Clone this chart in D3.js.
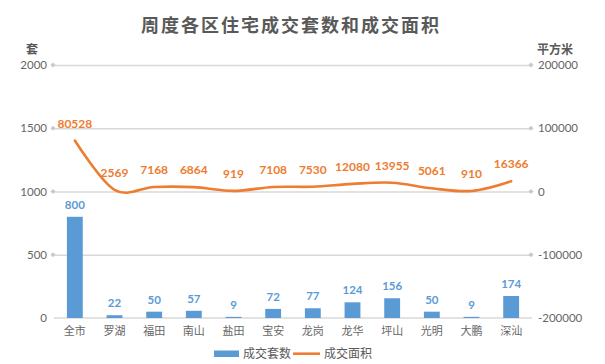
<!DOCTYPE html>
<html>
<head>
<meta charset="utf-8">
<script src="https://cdn.jsdelivr.net/npm/d3@7"></script>
<style>
  body { margin: 0; background: #fff; }
  svg { display: block; }
  .tick text { fill: #666; font-family: Lato, "Noto Sans CJK SC", sans-serif; }
</style>
</head>
<body>
<div id="chart"></div>
<script>
const districts = ['全市', '罗湖', '福田', '南山', '盐田', '宝安', '龙岗', '龙华', '坪山', '光明', '大鹏', '深汕'];
const unitsSold = [800, 22, 50, 57, 9, 72, 77, 124, 156, 50, 9, 174];
const areaSold = [80528, 2569, 7168, 6864, 919, 7108, 7530, 12080, 13955, 5061, 910, 16366];
const leftTicks = [0, 500, 1000, 1500, 2000];
const rightTicks = [-200000, -100000, 0, 100000, 200000];

const W = 605, H = 364;
const margin = { top: 65, right: 74, bottom: 46, left: 55 };
const plotW = W - margin.left - margin.right;
const plotH = H - margin.top - margin.bottom;

const blue = '#5b9bd5', orange = '#ed7d31', grid = '#d9d9d9';
const plain = d => String(d);

const svg = d3.select('#chart').append('svg')
  .attr('width', W).attr('height', H);

svg.append('text')
  .attr('x', 291).attr('y', 32)
  .attr('text-anchor', 'middle')
  .attr('font-family', '"Noto Sans CJK SC", sans-serif')
  .attr('font-weight', 700)
  .attr('font-size', 18)
  .attr('letter-spacing', 2)
  .attr('fill', '#595959')
  .text('周度各区住宅成交套数和成交面积');

const g = svg.append('g').attr('transform', `translate(${margin.left},${margin.top})`);

const x = d3.scaleBand().domain(districts).range([0, plotW]).paddingInner(0.6).paddingOuter(0.3);
const yL = d3.scaleLinear().domain([0, 2000]).range([plotH, 0]);
const yR = d3.scaleLinear().domain([-200000, 200000]).range([plotH, 0]);
const cx = d => x(d) + x.bandwidth() / 2;

// gridlines
g.append('g')
  .call(d3.axisLeft(yL).tickValues(leftTicks.slice(1)).tickSize(-plotW).tickFormat(''))
  .call(a => a.select('.domain').remove())
  .call(a => a.selectAll('line').attr('stroke', grid).attr('stroke-width', 1.3));

// diamonds at both ends of gridlines
const diamond = d3.symbol(d3.symbolSquare, 13);
[ -2, plotW ].forEach(px => {
  g.append('g').selectAll('path')
    .data(leftTicks.slice(1))
    .join('path')
    .attr('d', diamond)
    .attr('fill', '#c8c8c8')
    .attr('transform', d => `translate(${px},${yL(d)}) rotate(45)`);
});

// baseline
g.append('line')
  .attr('x1', -1).attr('x2', plotW + 1)
  .attr('y1', plotH).attr('y2', plotH)
  .attr('stroke', grid).attr('stroke-width', 1.3);

// left axis labels
g.append('g')
  .call(d3.axisLeft(yL).tickValues(leftTicks).tickFormat(plain).tickSize(0).tickPadding(8))
  .call(a => a.select('.domain').remove())
  .call(a => a.selectAll('text').attr('font-size', 11.5));

// right axis labels
g.append('g')
  .attr('transform', `translate(${plotW},0)`)
  .call(d3.axisRight(yR).tickValues(rightTicks).tickFormat(plain).tickSize(0).tickPadding(7))
  .call(a => a.select('.domain').remove())
  .call(a => a.selectAll('text').attr('font-size', 11.5));

// category axis
g.append('g')
  .attr('transform', `translate(0,${plotH})`)
  .call(d3.axisBottom(x).tickSize(0).tickPadding(9))
  .call(a => a.select('.domain').remove())
  .call(a => a.selectAll('text')
    .attr('font-size', 11)
    .attr('fill', '#777')
    .attr('font-family', '"Noto Sans CJK SC", sans-serif'));

// axis titles
svg.append('text').attr('x', 32).attr('y', 54)
  .attr('text-anchor', 'middle')
  .attr('font-family', '"Noto Sans CJK SC", sans-serif')
  .attr('font-weight', 700).attr('font-size', 12).attr('fill', '#595959')
  .text('套');
svg.append('text').attr('x', 555).attr('y', 54)
  .attr('text-anchor', 'middle')
  .attr('font-family', '"Noto Sans CJK SC", sans-serif')
  .attr('font-weight', 700).attr('font-size', 12).attr('fill', '#595959')
  .text('平方米');

const rows = districts.map((d, i) => ({ name: d, units: unitsSold[i], area: areaSold[i] }));

// bars
g.append('g').selectAll('rect')
  .data(rows)
  .join('rect')
  .attr('x', d => x(d.name))
  .attr('width', x.bandwidth())
  .attr('y', d => yL(d.units))
  .attr('height', d => plotH - yL(d.units))
  .attr('fill', blue);

g.append('g').selectAll('text')
  .data(rows)
  .join('text')
  .attr('x', d => cx(d.name))
  .attr('y', d => yL(d.units) - 8)
  .attr('text-anchor', 'middle')
  .attr('font-family', 'Lato, sans-serif')
  .attr('font-weight', 700)
  .attr('font-size', 11.5)
  .attr('fill', blue)
  .text(d => d.units);

// line
const line = d3.line()
  .x(d => cx(d.name))
  .y(d => yR(d.area))
  .curve(d3.curveCardinal.tension(0));

g.append('path')
  .datum(rows)
  .attr('d', line)
  .attr('fill', 'none')
  .attr('stroke', orange)
  .attr('stroke-width', 2.6)
  .attr('stroke-linecap', 'round');

g.append('g').selectAll('text')
  .data(rows)
  .join('text')
  .attr('x', d => cx(d.name))
  .attr('y', d => yR(d.area) - 13)
  .attr('text-anchor', 'middle')
  .attr('font-family', 'Lato, sans-serif')
  .attr('font-weight', 700)
  .attr('font-size', 12)
  .attr('fill', orange)
  .text(d => d.area);

// legend
const lg = svg.append('g').attr('font-family', '"Noto Sans CJK SC", sans-serif').attr('font-size', 12).attr('fill', '#595959');
lg.append('rect').attr('x', 214).attr('y', 350.5).attr('width', 25).attr('height', 6.5).attr('fill', blue);
lg.append('text').attr('x', 243).attr('y', 357.5).text('成交套数');
lg.append('line').attr('x1', 293).attr('x2', 320).attr('y1', 353.7).attr('y2', 353.7)
  .attr('stroke', orange).attr('stroke-width', 2.6);
lg.append('text').attr('x', 324).attr('y', 357.5).text('成交面积');
</script>
</body>
</html>
